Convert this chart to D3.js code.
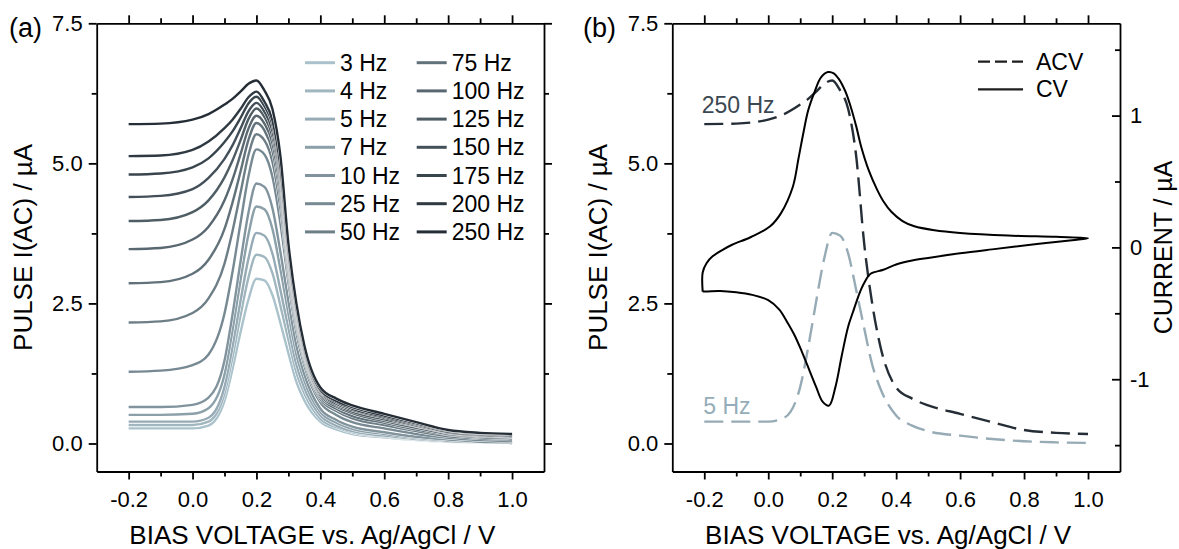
<!DOCTYPE html>
<meta charset="utf-8">
<head>
    <title>ACV / CV</title>
</head>

<style>
body { margin: 0; background: #fff; }

svg text {
  font-family: "Liberation Sans", Arial, sans-serif;
  fill: #000;
}

.axis path,
.axis line {
  fill: none;
  stroke: #000;
  stroke-width: 1.8px;
}

.trace {
  fill: none;
  stroke-width: 2.4px;
  stroke-linejoin: round;
}

.halo {
  fill: none;
  stroke: #fff;
  stroke-width: 3.3px;
}
</style>
<body>
<script src="https://cdn.jsdelivr.net/npm/d3@7"></script>
<script>

// bias voltage grid (V) shared by all ACV traces
var voltage = [-0.2, -0.1, 0.0, 0.05, 0.1, 0.125, 0.15, 0.175, 0.2, 0.225, 0.25, 0.275,
               0.3, 0.325, 0.35, 0.4, 0.45, 0.5, 0.6, 0.7, 0.8, 0.9, 1.0];

// pulse I(AC) in uA, one list per frequency
var i3Hz   = [0.27, 0.27, 0.27, 0.32, 0.76, 1.33, 1.98, 2.57, 2.94, 2.91, 2.65, 2.15, 1.61, 1.10, 0.77, 0.39, 0.25, 0.17, 0.11, 0.06, 0.03, 0.02, 0.01];
var i4Hz   = [0.33, 0.33, 0.33, 0.39, 0.89, 1.54, 2.28, 2.96, 3.37, 3.33, 3.04, 2.46, 1.85, 1.27, 0.89, 0.44, 0.29, 0.20, 0.13, 0.07, 0.04, 0.02, 0.01];
var i5Hz   = [0.39, 0.39, 0.39, 0.46, 1.01, 1.72, 2.54, 3.30, 3.76, 3.71, 3.39, 2.74, 2.06, 1.41, 0.99, 0.50, 0.32, 0.22, 0.14, 0.08, 0.04, 0.02, 0.01];
var i7Hz   = [0.51, 0.51, 0.53, 0.63, 1.23, 2.02, 2.91, 3.73, 4.23, 4.18, 3.83, 3.11, 2.32, 1.59, 1.12, 0.56, 0.37, 0.26, 0.17, 0.10, 0.05, 0.03, 0.01];
var i10Hz  = [0.65, 0.65, 0.69, 0.82, 1.48, 2.30, 3.24, 4.12, 4.64, 4.58, 4.20, 3.42, 2.54, 1.75, 1.23, 0.62, 0.42, 0.30, 0.20, 0.12, 0.07, 0.03, 0.02];
var i25Hz  = [1.28, 1.30, 1.40, 1.59, 2.32, 3.06, 3.93, 4.77, 5.25, 5.16, 4.76, 3.93, 2.88, 1.98, 1.39, 0.73, 0.51, 0.38, 0.27, 0.17, 0.10, 0.06, 0.04];
var i50Hz  = [2.16, 2.18, 2.33, 2.59, 3.21, 3.79, 4.47, 5.15, 5.52, 5.41, 5.03, 4.20, 3.03, 2.10, 1.47, 0.79, 0.58, 0.45, 0.33, 0.22, 0.13, 0.09, 0.07];
var i75Hz  = [2.86, 2.88, 3.03, 3.28, 3.83, 4.30, 4.85, 5.42, 5.72, 5.59, 5.22, 4.38, 3.14, 2.18, 1.53, 0.83, 0.62, 0.49, 0.37, 0.25, 0.16, 0.11, 0.09];
var i100Hz = [3.47, 3.49, 3.64, 3.87, 4.34, 4.71, 5.16, 5.62, 5.85, 5.71, 5.36, 4.52, 3.22, 2.24, 1.57, 0.86, 0.66, 0.54, 0.40, 0.28, 0.17, 0.13, 0.11];
var i125Hz = [3.97, 3.99, 4.13, 4.34, 4.75, 5.05, 5.41, 5.79, 5.98, 5.83, 5.48, 4.65, 3.29, 2.29, 1.61, 0.89, 0.69, 0.57, 0.43, 0.31, 0.19, 0.14, 0.12];
var i150Hz = [4.40, 4.42, 4.54, 4.74, 5.08, 5.32, 5.62, 5.93, 6.08, 5.92, 5.58, 4.75, 3.35, 2.34, 1.64, 0.92, 0.71, 0.60, 0.46, 0.32, 0.20, 0.15, 0.13];
var i175Hz = [4.80, 4.82, 4.93, 5.09, 5.38, 5.57, 5.81, 6.07, 6.19, 6.02, 5.69, 4.85, 3.40, 2.38, 1.67, 0.94, 0.74, 0.62, 0.48, 0.34, 0.21, 0.17, 0.14];
var i200Hz = [5.13, 5.14, 5.24, 5.39, 5.63, 5.78, 5.97, 6.18, 6.28, 6.10, 5.77, 4.94, 3.46, 2.42, 1.70, 0.96, 0.76, 0.65, 0.50, 0.36, 0.23, 0.18, 0.16];
var i250Hz = [5.70, 5.71, 5.78, 5.88, 6.05, 6.15, 6.28, 6.42, 6.48, 6.30, 5.97, 5.13, 3.57, 2.50, 1.75, 1.00, 0.80, 0.68, 0.53, 0.38, 0.24, 0.19, 0.17];

var freqLabels = ["3 Hz", "4 Hz", "5 Hz", "7 Hz", "10 Hz", "25 Hz", "50 Hz",
                  "75 Hz", "100 Hz", "125 Hz", "150 Hz", "175 Hz", "200 Hz", "250 Hz"];
var acvSeries = [i3Hz, i4Hz, i5Hz, i7Hz, i10Hz, i25Hz, i50Hz,
                 i75Hz, i100Hz, i125Hz, i150Hz, i175Hz, i200Hz, i250Hz];

// cyclic voltammogram, in scan order (forward then back)
var cvVoltage = [-0.205, -0.205, -0.193, -0.174, -0.14, -0.113, -0.054, 0.006, 0.04, 0.077, 0.095, 0.11,
                 0.125, 0.145, 0.165, 0.187, 0.205, 0.22, 0.24, 0.255, 0.275, 0.29, 0.315, 0.34,
                 0.36, 0.385, 0.42, 0.457, 0.52, 0.6, 0.75, 0.9, 1.0,
                 0.95, 0.84, 0.7, 0.6, 0.5, 0.45, 0.4, 0.36, 0.32, 0.3, 0.285, 0.265, 0.25,
                 0.23, 0.21, 0.19, 0.17, 0.15, 0.13, 0.105, 0.083, 0.06, 0.034, 0.0, -0.05,
                 -0.1, -0.15, -0.205];
var cvCurrent = [-0.335, -0.19, -0.12, -0.068, -0.015, 0.02, 0.079, 0.16, 0.26, 0.46, 0.68, 0.87,
                 1.04, 1.18, 1.29, 1.33, 1.32, 1.28, 1.19, 1.09, 0.92, 0.77, 0.58, 0.44,
                 0.35, 0.27, 0.2, 0.16, 0.13, 0.11, 0.09, 0.08, 0.07,
                 0.055, 0.025, -0.015, -0.045, -0.08, -0.10, -0.13, -0.17, -0.20, -0.27, -0.35, -0.49, -0.6,
                 -0.82, -1.06, -1.2, -1.17, -1.06, -0.94, -0.79, -0.67, -0.57, -0.47, -0.40, -0.36,
                 -0.34, -0.33, -0.335];

var xMajor = [-0.2, 0.0, 0.2, 0.4, 0.6, 0.8, 1.0];
var xMinor = [-0.1, 0.1, 0.3, 0.5, 0.7, 0.9];
var yMajor = [0, 2.5, 5.0, 7.5];
var yMinor = [1.25, 3.75, 6.25];
var cMajor = [-1, 0, 1];
var cMinor = [-1.5, -0.5, 0.5, 1.5];


var color = d3.scaleLinear()
    .domain([0, acvSeries.length - 1])
    .range(["#aac2cc", "#252e36"]);

var fmt1 = function(d) { return d.toFixed(1); };

var svg = d3.select("body").append("svg")
    .attr("width", 1179)
    .attr("height", 549);

var yTop = 23.3, yBot = 471.5;

var xA = d3.scaleLinear().domain([-0.3, 1.1]).range([96.7, 544]);
var xB = d3.scaleLinear().domain([-0.3, 1.1]).range([672.3, 1120]);
var y = d3.scaleLinear().domain([-0.5, 7.5]).range([yBot, yTop]);
var yC = d3.scaleLinear().domain([-1.7, 1.7]).range([yBot, yTop]);

function styleAxis(sel) {
  sel.attr("font-family", "Liberation Sans, Arial, sans-serif")
     .attr("font-size", 22)
     .attr("fill", "#000");
  sel.selectAll("text").attr("fill", "#000");
}

// frame with ticks on four sides; rightInner = right axis ticks point inward
function drawFrame(x, rightInner) {
  var x0 = x.range()[0], x1 = x.range()[1];

  svg.append("g").attr("class", "axis")
      .attr("transform", "translate(0," + yBot + ")")
      .call(d3.axisBottom(x).tickValues(xMajor).tickFormat(fmt1)
            .tickSize(8).tickSizeOuter(0).tickPadding(12))
      .call(styleAxis);
  svg.append("g").attr("class", "axis")
      .attr("transform", "translate(0," + yBot + ")")
      .call(d3.axisBottom(x).tickValues(xMinor).tickFormat("").tickSize(5))
      .call(function(g) { g.select(".domain").remove(); });

  svg.append("g").attr("class", "axis")
      .attr("transform", "translate(0," + yTop + ")")
      .call(d3.axisTop(x).tickValues(xMajor).tickFormat("")
            .tickSize(8).tickSizeOuter(0));
  svg.append("g").attr("class", "axis")
      .attr("transform", "translate(0," + yTop + ")")
      .call(d3.axisTop(x).tickValues(xMinor).tickFormat("").tickSize(5))
      .call(function(g) { g.select(".domain").remove(); });

  svg.append("g").attr("class", "axis")
      .attr("transform", "translate(" + x0 + ",0)")
      .call(d3.axisLeft(y).tickValues(yMajor).tickFormat(fmt1)
            .tickSize(8).tickSizeOuter(0).tickPadding(6))
      .call(styleAxis);
  svg.append("g").attr("class", "axis")
      .attr("transform", "translate(" + x0 + ",0)")
      .call(d3.axisLeft(y).tickValues(yMinor).tickFormat("").tickSize(5))
      .call(function(g) { g.select(".domain").remove(); });

  if (!rightInner) {
    svg.append("g").attr("class", "axis")
        .attr("transform", "translate(" + x1 + ",0)")
        .call(d3.axisRight(y).tickValues(yMajor).tickFormat("")
              .tickSize(8).tickSizeOuter(0));
    svg.append("g").attr("class", "axis")
        .attr("transform", "translate(" + x1 + ",0)")
        .call(d3.axisRight(y).tickValues(yMinor).tickFormat("").tickSize(5))
        .call(function(g) { g.select(".domain").remove(); });
  } else {
    svg.append("g").attr("class", "axis")
        .attr("transform", "translate(" + x1 + ",0)")
        .call(d3.axisRight(yC).tickValues(cMajor).tickFormat(function(d) { return String(d); })
              .tickSize(-8).tickSizeOuter(0).tickPadding(10))
        .call(styleAxis);
    svg.append("g").attr("class", "axis")
        .attr("transform", "translate(" + x1 + ",0)")
        .call(d3.axisRight(yC).tickValues(cMinor).tickFormat("").tickSize(-5))
        .call(function(g) { g.select(".domain").remove(); });
  }

  // axis titles
  svg.append("text")
      .attr("x", (x0 + x1) / 2 - 8)
      .attr("y", 544)
      .attr("font-size", 26)
      .style("text-anchor", "middle")
      .text("BIAS VOLTAGE vs. Ag/AgCl / V");

  svg.append("text")
      .attr("transform", "translate(" + (x0 - 65) + "," + ((yTop + yBot) / 2) + ") rotate(-90)")
      .attr("font-size", 26)
      .style("text-anchor", "middle")
      .text("PULSE I(AC) / \u00b5A");
}

function acvLine(x) {
  return d3.line()
      .x(function(d, i) { return x(voltage[i]); })
      .y(function(d) { return y(d); })
      .curve(d3.curveMonotoneX);
}

// ---------- panel (a) ----------
drawFrame(xA, false);

var lineA = acvLine(xA);

acvSeries.forEach(function(s, i) {
  svg.append("path")
      .datum(s)
      .attr("class", "halo")
      .attr("d", lineA);
  svg.append("path")
      .datum(s)
      .attr("class", "trace")
      .style("stroke", color(i))
      .attr("d", lineA);
});

// draw legend
var legend = svg.selectAll(".legend")
    .data(freqLabels)
  .enter().append("g")
    .attr("class", "legend")
    .attr("transform", function(d, i) {
      return "translate(" + (i < 7 ? 305 : 416.7) + "," + (62.7 + (i % 7) * 28.2) + ")";
    });

legend.append("line")
    .attr("x1", 0)
    .attr("x2", 30)
    .style("stroke", function(d, i) { return color(i); })
    .style("stroke-width", 3);

legend.append("text")
    .attr("x", 35)
    .attr("dy", "0.35em")
    .attr("font-size", 23)
    .text(function(d) { return d; });

svg.append("text")
    .attr("x", 9)
    .attr("y", 37)
    .attr("font-size", 27)
    .text("(a)");

// ---------- panel (b) ----------
drawFrame(xB, true);

var lineB = acvLine(xB);

svg.append("path")
    .datum(i5Hz)
    .attr("class", "trace")
    .style("stroke", color(2))
    .style("stroke-dasharray", "19,8")
    .attr("d", lineB);

svg.append("path")
    .datum(i250Hz)
    .attr("class", "trace")
    .style("stroke", color(13))
    .style("stroke-dasharray", "19,8")
    .attr("d", lineB);

var cvLine = d3.line()
    .x(function(d, i) { return xB(cvVoltage[i]); })
    .y(function(d) { return yC(d); })
    .curve(d3.curveCatmullRom.alpha(0.5));

svg.append("path")
    .datum(cvCurrent)
    .attr("class", "trace")
    .style("stroke", "#000")
    .style("stroke-width", "2px")
    .attr("d", cvLine);

svg.append("text")
    .attr("x", 701.7)
    .attr("y", 113.3)
    .attr("font-size", 23)
    .style("fill", "#3b4852")
    .text("250 Hz");

svg.append("text")
    .attr("x", 703.3)
    .attr("y", 414)
    .attr("font-size", 23)
    .style("fill", "#95adb8")
    .text("5 Hz");

// right axis title
svg.append("text")
    .attr("transform", "translate(1172," + ((yTop + yBot) / 2) + ") rotate(-90)")
    .attr("font-size", 25)
    .style("text-anchor", "middle")
    .text("CURRENT / \u00b5A");

// legend ACV / CV
var legB = svg.selectAll(".legendB")
    .data(["ACV", "CV"])
  .enter().append("g")
    .attr("class", "legendB")
    .attr("transform", function(d, i) { return "translate(978," + (61.7 + i * 27.6) + ")"; });

legB.append("line")
    .attr("x1", 0)
    .attr("x2", 45)
    .style("stroke", "#1e1e1e")
    .style("stroke-width", 2.3)
    .style("stroke-dasharray", function(d) { return d === "ACV" ? "12,5" : null; });

legB.append("text")
    .attr("x", 58)
    .attr("dy", "0.35em")
    .attr("font-size", 23)
    .text(function(d) { return d; });

svg.append("text")
    .attr("x", 583)
    .attr("y", 37)
    .attr("font-size", 27)
    .text("(b)");

</script>
</body>
